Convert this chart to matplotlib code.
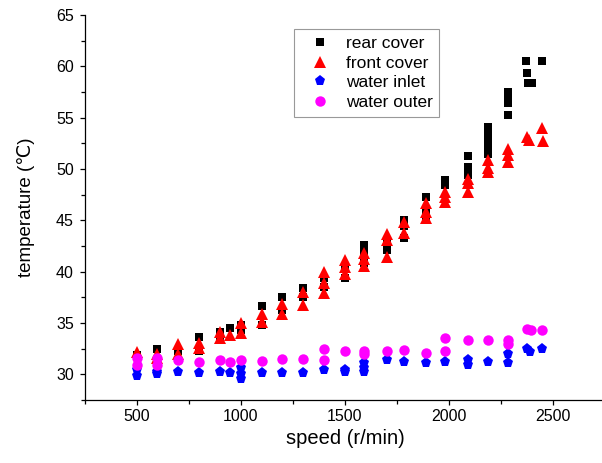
import matplotlib
matplotlib.use("Agg")
import matplotlib.pyplot as plt
from matplotlib.ticker import MultipleLocator

plt.rcParams['font.family'] = ['Liberation Sans', 'DejaVu Sans']

# ---- data ----
rear_speed = [500, 600, 700, 800, 800, 900, 900, 950, 1000, 1000, 1100, 1100,
              1200, 1200, 1300, 1300, 1400, 1400, 1500, 1500, 1590, 1590, 1590,
              1700, 1700, 1785, 1785, 1785, 1890, 1890, 1890, 1980, 1980,
              2090, 2090, 2090, 2185, 2185, 2185, 2185, 2185, 2185,
              2285, 2285, 2285, 2285, 2370, 2375, 2380, 2400, 2445]
rear_temp = [31.9, 32.5, 32.3, 33.6, 32.3, 34.1, 33.3, 34.5, 34.8, 34.3, 36.7, 34.8,
             37.5, 36.3, 38.4, 37.5, 39.4, 38.5, 40.4, 39.4, 42.6, 42.0, 40.8,
             43.0, 42.1, 45.0, 44.5, 43.3, 47.3, 46.0, 45.2, 48.9, 48.4,
             51.3, 50.2, 49.4, 54.1, 53.5, 53.0, 52.5, 52.0, 51.5,
             57.5, 56.8, 56.4, 55.3, 60.5, 59.4, 58.4, 58.4, 60.5]

front_speed = [500, 600, 600, 700, 700, 800, 800, 900, 900, 950, 1000, 1000,
               1100, 1100, 1200, 1200, 1300, 1300, 1400, 1400, 1400,
               1500, 1500, 1500, 1590, 1590, 1590, 1700, 1700, 1700,
               1785, 1785, 1890, 1890, 1890, 1980, 1980, 1980,
               2090, 2090, 2090, 2185, 2185, 2185, 2285, 2285, 2285,
               2375, 2385, 2445, 2450]
front_temp = [32.2, 32.0, 31.6, 33.0, 32.0, 33.1, 32.6, 34.1, 33.5, 33.8, 35.0, 34.0,
              35.9, 35.1, 36.9, 35.9, 38.0, 36.8, 40.0, 38.9, 37.9,
              41.1, 40.5, 39.8, 41.8, 41.2, 40.6, 43.7, 43.1, 41.4,
              44.8, 43.8, 46.7, 45.8, 45.2, 47.8, 47.3, 46.8,
              49.0, 48.6, 47.8, 50.9, 50.1, 49.7, 52.0, 51.4, 50.7,
              53.1, 52.8, 54.0, 52.7]

inlet_speed = [500, 500, 600, 600, 700, 800, 900, 950, 1000, 1000, 1000,
               1100, 1200, 1300, 1400, 1500, 1500, 1590, 1590, 1590,
               1700, 1785, 1890, 1980, 2090, 2090, 2185, 2285, 2285,
               2375, 2390, 2445]
inlet_temp = [30.4, 29.8, 30.2, 30.0, 30.2, 30.1, 30.2, 30.1, 30.6, 30.0, 29.5,
              30.1, 30.1, 30.1, 30.4, 30.4, 30.2, 31.1, 30.6, 30.2,
              31.4, 31.2, 31.1, 31.2, 31.4, 30.9, 31.2, 32.0, 31.1,
              32.5, 32.2, 32.5]

outer_speed = [500, 500, 600, 600, 700, 800, 900, 950, 1000, 1100, 1200, 1300,
               1400, 1400, 1500, 1590, 1590, 1700, 1785, 1890, 1980, 1980,
               2090, 2185, 2285, 2285, 2375, 2395, 2445]
outer_temp = [31.6, 30.9, 31.6, 30.9, 31.4, 31.2, 31.4, 31.2, 31.4, 31.3, 31.5, 31.5,
              32.5, 31.4, 32.3, 32.3, 32.0, 32.3, 32.4, 32.1, 33.5, 32.3,
              33.3, 33.3, 33.3, 33.0, 34.4, 34.3, 34.3]

labels = ["rear cover", "front cover", "water inlet", "water outer"]

fig = plt.figure(figsize=(6.02, 4.63), dpi=100)
ax = fig.add_axes([0.1405, 0.136, 0.865, 0.8315])

ax.plot(rear_speed, rear_temp, 's', color='black', ms=6.3, mew=0, label=labels[0])
ax.plot(front_speed, front_temp, '^', color='#ff0000', ms=8, mew=0, label=labels[1])
ax.plot(inlet_speed, inlet_temp, 'p', color='#0000ff', ms=8, mew=0, label=labels[2])
ax.plot(outer_speed, outer_temp, 'o', color='#ff00ff', ms=7.5, mew=0, label=labels[3])

ax.set_xlim(250, 2750)
ax.set_ylim(27.5, 65)
ax.xaxis.set_major_locator(MultipleLocator(500))
ax.xaxis.set_minor_locator(MultipleLocator(250))
ax.yaxis.set_major_locator(MultipleLocator(5))
ax.yaxis.set_minor_locator(MultipleLocator(2.5))

for s in ['top', 'right']:
    ax.spines[s].set_visible(False)
for s in ['left', 'bottom']:
    ax.spines[s].set_linewidth(0.9)

ax.tick_params(which='major', direction='out', length=3.8, width=0.9, labelsize=11.5)
ax.tick_params(axis='x', which='major', pad=2.5)
ax.tick_params(axis='y', which='major', pad=4)
ax.tick_params(which='minor', direction='out', length=3.0, width=0.9)

ax.set_xlabel("speed (r/min)", fontsize=14.5, labelpad=4)
ax.set_ylabel("temperature (\u2103)", fontsize=13.5, labelpad=15)

leg = ax.legend(loc='upper left', bbox_to_anchor=(294/602, 1-29/463),
                bbox_transform=fig.transFigure, borderaxespad=0,
                fontsize=12.5, frameon=True, fancybox=False,
                labelspacing=0.27, handletextpad=0.4, borderpad=0.38,
                handlelength=2.2)
leg.get_frame().set_edgecolor('#808080')
leg.get_frame().set_linewidth(0.8)

fig.savefig("out.png", dpi=100)
